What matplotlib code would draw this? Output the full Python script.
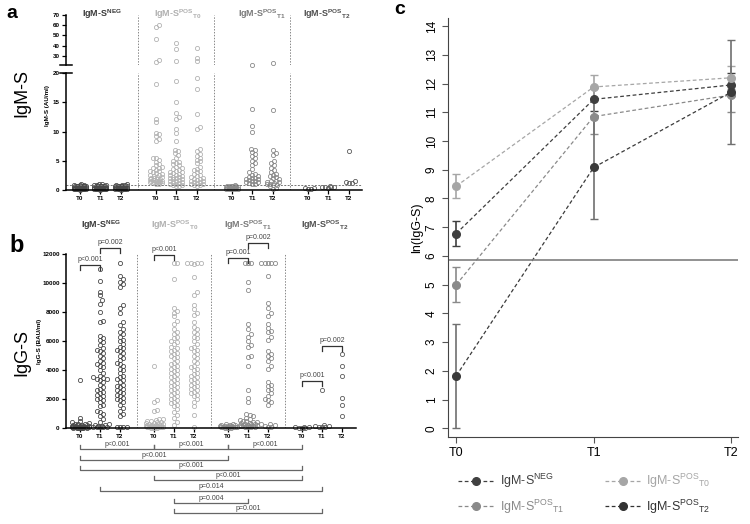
import numpy as np
import matplotlib.pyplot as plt
from matplotlib.lines import Line2D

plt.rcParams['font.family'] = ['Liberation Sans', 'DejaVu Sans']
plt.rcParams['mathtext.fontset'] = 'custom'
plt.rcParams['mathtext.rm'] = 'Liberation Sans'
plt.rcParams['mathtext.bf'] = 'Liberation Sans:bold'
plt.rcParams['mathtext.it'] = 'Liberation Sans:italic'

# ---------------- data ----------------
groups = ['NEG', 'POS_T0', 'POS_T1', 'POS_T2']
times = ['T0', 'T1', 'T2']

# panel a: IgM-S (AU/ml), one list per group/time
igm_neg_t0 = [0.05, 0.1, 0.1, 0.1, 0.15, 0.15, 0.2, 0.2, 0.2, 0.25, 0.25, 0.3, 0.3, 0.3, 0.35, 0.35, 0.4, 0.4,
              0.4, 0.45, 0.45, 0.5, 0.5, 0.5, 0.55, 0.55, 0.6, 0.6, 0.65, 0.65, 0.7, 0.7, 0.75, 0.8, 0.85, 0.9, 0.95]
igm_neg_t1 = [0.05, 0.1, 0.1, 0.15, 0.15, 0.2, 0.2, 0.2, 0.25, 0.25, 0.3, 0.3, 0.35, 0.35, 0.4, 0.4, 0.4, 0.45,
              0.45, 0.5, 0.5, 0.55, 0.55, 0.6, 0.6, 0.65, 0.7, 0.7, 0.75, 0.8, 0.85, 0.9, 0.95, 1.0]
igm_neg_t2 = [0.05, 0.1, 0.1, 0.15, 0.2, 0.2, 0.25, 0.25, 0.3, 0.3, 0.35, 0.35, 0.4, 0.4, 0.45, 0.45, 0.5, 0.5,
              0.55, 0.55, 0.6, 0.6, 0.65, 0.7, 0.7, 0.75, 0.8, 0.85, 0.9, 0.95]
igm_pos0_t0 = [60, 58, 47, 26, 24, 18.2, 12.2, 11.6, 9.8, 9.5, 9.2, 8.8, 8.4, 5.5, 5.4, 5.2, 4.8, 4.5, 4.2, 4.0,
               3.8, 3.7, 3.5, 3.3, 3.2, 3.0, 2.9, 2.8, 2.6, 2.5, 2.4, 2.3, 2.2, 2.1, 2.0, 1.9, 1.8, 1.8, 1.7, 1.6,
               1.6, 1.5, 1.5, 1.4, 1.4, 1.3, 1.3, 1.2, 1.2, 1.1, 1.1]
igm_pos0_t1 = [43, 37, 25, 18.6, 15.0, 13.1, 12.5, 12.1, 10.4, 9.8, 8.3, 6.9, 6.6, 6.3, 6.0, 5.5, 5.0, 4.8, 4.6,
               4.4, 4.2, 4.0, 3.8, 3.6, 3.5, 3.3, 3.1, 3.0, 2.9, 2.8, 2.6, 2.5, 2.4, 2.3, 2.2, 2.1, 2.0, 1.9, 1.8,
               1.7, 1.6, 1.5, 1.4, 1.3, 1.2, 1.1, 1.0, 0.9, 0.8, 0.7, 0.6]
igm_pos0_t2 = [38, 28, 25, 19.2, 17.2, 13.0, 10.8, 10.5, 7.0, 6.6, 6.2, 5.8, 5.5, 5.2, 4.9, 4.6, 4.0, 3.6, 3.4,
               3.2, 3.0, 2.8, 2.6, 2.4, 2.2, 2.0, 1.9, 1.8, 1.7, 1.6, 1.5, 1.4, 1.3, 1.2, 1.1, 1.0, 0.9, 0.8, 0.7]
igm_pos1_t0 = [0.1, 0.15, 0.2, 0.2, 0.25, 0.3, 0.3, 0.35, 0.4, 0.4, 0.45, 0.5, 0.5, 0.55, 0.6, 0.6, 0.65, 0.7,
               0.75, 0.8]
igm_pos1_t1 = [21.5, 13.9, 11.0, 10.0, 7.0, 6.8, 6.5, 6.2, 5.8, 5.4, 5.0, 4.6, 4.2, 3.6, 3.0, 2.8, 2.6, 2.4, 2.2,
               2.1, 2.0, 1.9, 1.8, 1.7, 1.6, 1.5, 1.4, 1.3, 1.2, 1.1, 1.0]
igm_pos1_t2 = [22.8, 13.6, 6.8, 6.4, 6.0, 5.0, 4.6, 4.2, 3.8, 3.4, 3.1, 2.8, 2.6, 2.4, 2.2, 2.0, 1.8, 1.6, 1.5,
               1.4, 1.3, 1.2, 1.1, 1.0, 0.9, 0.8, 0.6, 0.4, 0.2]
igm_pos2_t0 = [0.2, 0.3, 0.4, 0.25]
igm_pos2_t1 = [0.4, 0.5, 0.6, 0.5, 0.45, 0.55]
igm_pos2_t2 = [6.6, 1.6, 1.3, 1.2, 1.2]

# panel b: IgG-S (BAU/ml)
igg_neg_t0 = [3300, 700, 450, 400, 350, 300, 280, 250, 220, 200, 200, 180, 160, 150, 140, 120, 110, 100, 100, 90,
              80, 80, 70, 60, 60, 50, 50, 40, 40, 30, 30, 20, 20, 10, 10, 5]
igg_neg_t1 = [10960, 10130, 9390, 9150, 8800, 8570, 7990, 7410, 7290, 6360, 6200, 6100, 5900, 5700, 5500, 5400,
              5300, 5200, 5000, 4800, 4600, 4500, 4400, 4300, 4200, 4000, 3800, 3600, 3500, 3450, 3400, 3350,
              3300, 3200, 3000, 2800, 2700, 2600, 2500, 2400, 2300, 2200, 2100, 2000, 1900, 1800, 1600, 1500,
              1200, 1100, 1000, 800, 600, 400, 250, 200, 180, 150, 120, 100, 100, 80, 60, 50]
igg_neg_t2 = [11400, 10500, 10300, 10100, 9900, 9700, 8500, 8300, 7900, 7300, 7100, 6800, 6600, 6500, 6300, 6100,
              6000, 5800, 5600, 5500, 5400, 5300, 5200, 5000, 4800, 4700, 4500, 4400, 4300, 4100, 4000, 3800,
              3600, 3500, 3400, 3300, 3200, 3000, 2900, 2800, 2700, 2600, 2500, 2400, 2300, 2200, 2100, 2000,
              1900, 1800, 1600, 1400, 1200, 1000, 800, 100, 80, 60, 50]
igg_pos0_t0 = [4300, 1900, 1800, 1250, 1150, 650, 600, 550, 500, 450, 400, 380, 350, 320, 300, 280, 250, 230,
               200, 200, 180, 160, 150, 140, 120, 100, 100, 80, 70, 60, 50, 40, 30, 20, 10]
igg_pos0_t1 = [11400, 11400, 10300, 8300, 8050, 7950, 7700, 7400, 7200, 6800, 6600, 6500, 6300, 6200, 6000, 5900,
               5800, 5600, 5500, 5400, 5300, 5200, 5100, 5000, 4900, 4800, 4600, 4500, 4400, 4300, 4200, 4100,
               4000, 3900, 3800, 3700, 3600, 3500, 3400, 3300, 3200, 3100, 3000, 2900, 2800, 2700, 2600, 2500,
               2400, 2300, 2200, 2100, 2000, 1900, 1800, 1700, 1600, 1500, 1300, 1100, 900, 700, 400, 200]
igg_pos0_t2 = [11400, 11400, 11400, 11400, 11300, 10400, 9400, 9200, 8500, 8200, 7900, 7800, 7300, 7000, 6800,
               6600, 6500, 6300, 6200, 6000, 5800, 5600, 5500, 5400, 5300, 5100, 5000, 4800, 4600, 4500, 4300,
               4200, 4100, 4000, 3800, 3700, 3600, 3500, 3400, 3300, 3200, 3100, 3000, 2900, 2800, 2700, 2600,
               2500, 2400, 2300, 2200, 2000, 1800, 1500, 900, 50]
igg_pos1_t0 = [300, 250, 220, 200, 180, 160, 150, 130, 120, 100, 90, 80, 70, 60, 50, 40, 30, 20, 10]
igg_pos1_t1 = [11400, 11400, 11400, 10035, 9500, 7180, 6800, 6500, 6300, 6000, 5700, 5600, 5000, 4900, 4300, 2600,
               2100, 1800, 1000, 900, 800, 700, 600, 550, 500, 450, 400, 380, 350, 320, 300, 280, 260, 240, 220,
               200, 180, 160, 150, 130, 120, 100, 80, 60, 40]
igg_pos1_t2 = [11400, 11400, 11400, 11400, 11400, 10500, 8600, 8300, 7900, 7700, 7200, 6900, 6700, 6600, 6300,
               6100, 5300, 5100, 5000, 4800, 4600, 4300, 4100, 3200, 3000, 2900, 2700, 2600, 2400, 2200, 2000,
               1900, 1800, 1600, 300, 250, 200, 150, 100, 80]
igg_pos2_t0 = [60, 50, 40, 30, 20, 10]
igg_pos2_t1 = [2650, 200, 150, 120, 100, 80, 50]
igg_pos2_t2 = [5100, 4300, 3600, 2050, 1600, 850]

igm_cols = [igm_neg_t0, igm_neg_t1, igm_neg_t2, igm_pos0_t0, igm_pos0_t1, igm_pos0_t2,
            igm_pos1_t0, igm_pos1_t1, igm_pos1_t2, igm_pos2_t0, igm_pos2_t1, igm_pos2_t2]
igg_cols = [igg_neg_t0, igg_neg_t1, igg_neg_t2, igg_pos0_t0, igg_pos0_t1, igg_pos0_t2,
            igg_pos1_t0, igg_pos1_t1, igg_pos1_t2, igg_pos2_t0, igg_pos2_t1, igg_pos2_t2]

igm_cutoff = 0.85
ln_cutoff = 5.85

# panel c: ln(IgG-S) mean and error
neg_mean = [6.78, 11.45, 11.95]
neg_err = [0.42, 0.40, 0.40]
pos0_mean = [8.43, 11.88, 12.20]
pos0_err = [0.42, 0.42, 0.40]
pos1_mean = [5.00, 10.85, 11.60]
pos1_err = [0.60, 0.60, 0.60]
pos2_mean = [1.83, 9.08, 11.70]
pos2_err = [1.80, 1.80, 1.80]

# p-values
p_within = [(0, 1, 11240, 'p<0.001'), (1, 2, 12410, 'p=0.002'), (3.7, 4.7, 11930, 'p<0.001'),
            (7.4, 8.4, 11720, 'p=0.001'), (8.4, 9.4, 12760, 'p=0.002'),
            (11.1, 12.1, 3240, 'p<0.001'), (12.1, 13.1, 5650, 'p=0.002')]
p_between = [(0, 3.7, 449, 'p<0.001'), (3.7, 7.4, 449, 'p<0.001'), (7.4, 11.1, 449, 'p<0.001'),
             (0, 7.4, 460, 'p<0.001'), (0, 11.1, 470, 'p<0.001'), (3.7, 11.1, 480, 'p<0.001'),
             (1, 12.1, 491, 'p=0.014'), (4.7, 8.4, 503, 'p=0.004'), (4.7, 12.1, 513, 'p=0.001')]

# ---------------- style ----------------
grp_colors = ['#4a4a4a', '#b3b3b3', '#8a8a8a', '#5a5a5a']
hdr_colors = ['#3a3a3a', '#b0b0b0', '#7a7a7a', '#505050']
hdr_labels = [r'IgM-S$^{\mathbf{NEG}}$', r'IgM-S$^{\mathbf{POS}}{}_{\mathbf{T0}}$',
              r'IgM-S$^{\mathbf{POS}}{}_{\mathbf{T1}}$', r'IgM-S$^{\mathbf{POS}}{}_{\mathbf{T2}}$']
xpos = [3.7 * g + t for g in range(4) for t in range(3)]
seps = [2.85 + 3.7 * k for k in range(3)]
W, H = 750, 524


def fx(x):
    return x / W


def fy(y):
    return 1 - y / H


def swarm(vals, ppy, ppx=20.0, d=3.4, maxw=9.0):
    vals = np.asarray(vals, float)
    ys = vals * ppy
    offs = np.zeros(len(vals))
    cands = [0.0]
    k = 1
    while k * d / 2 <= maxw:
        cands += [k * d / 2, -k * d / 2]
        k += 1
    done = []
    for i in np.argsort(vals):
        best, bestd = 0.0, -1
        for c in cands:
            if done:
                pts = np.array(done)
                md = np.min(np.hypot(pts[:, 0] - c, pts[:, 1] - ys[i]))
            else:
                md = np.inf
            if md >= d:
                best = c
                break
            if md > bestd:
                bestd, best = md, c
        offs[i] = best
        done.append((best, ys[i]))
    return offs / ppx


def style_ax(ax):
    for s in ['top', 'right']:
        ax.spines[s].set_visible(False)
    for s in ['left', 'bottom']:
        ax.spines[s].set_linewidth(1.1)
    ax.tick_params(length=3, width=0.9, labelsize=4.5, pad=1.5)
    for lab in ax.get_yticklabels() + ax.get_xticklabels():
        lab.set_fontweight('bold')


fig = plt.figure(figsize=(7.5, 5.24), dpi=100)

# ---------------- panel a ----------------
ax_top = fig.add_axes([fx(66), fy(65.2), fx(296), 50.2 / H])
ax_bot = fig.add_axes([fx(66), fy(190), fx(296), 117 / H])
xl = (-0.68, 13.75)
for i, vals in enumerate(igm_cols):
    g = i // 3
    lo = [v for v in vals if v <= 20.5]
    hi = [v for v in vals if v > 20.5]
    if lo:
        ax_bot.plot(xpos[i] + swarm(lo, 5.86, 20.5, 3.0, 7.0), lo, 'o', ms=3.0, mfc='none',
                    mec=grp_colors[g], mew=0.6, clip_on=False)
    if hi:
        ax_top.plot(xpos[i] + swarm(hi, 1.025, 20.5, 3.0, 7.0), hi, 'o', ms=3.0, mfc='none',
                    mec=grp_colors[g], mew=0.6, clip_on=False)

ax_top.set_xlim(xl)
ax_top.set_ylim(21, 70)
ax_top.set_yticks([30, 40, 50, 60, 70])
ax_top.set_xticks([])
style_ax(ax_top)
ax_top.spines['bottom'].set_visible(False)
ax_top.plot([-0.02, 0.02], [21, 21], color='k', lw=1.1, transform=ax_top.get_yaxis_transform(), clip_on=False)

ax_bot.set_xlim(xl)
ax_bot.set_ylim(0, 20)
ax_bot.set_yticks([0, 5, 10, 15, 20])
ax_bot.set_xticks(xpos)
ax_bot.set_xticklabels(times * 4)
style_ax(ax_bot)
ax_bot.plot([-0.02, 0.02], [20, 20], color='k', lw=1.1, transform=ax_bot.get_yaxis_transform(), clip_on=False)
ax_bot.axhline(igm_cutoff, color='#777777', lw=0.7, ls=(0, (2, 1.5)))
for s in seps:
    ax_bot.axvline(s, color='#888888', lw=0.7, ls=(0, (1.5, 1.5)))
    ax_top.axvline(s, color='#888888', lw=0.7, ls=(0, (1.5, 1.5)))
fig.text(fx(48), fy(105), 'IgM-S (AU/ml)', rotation=90, fontsize=4.5, fontweight='bold', ha='center', va='center')

hdr_a_x = [102, 178, 262, 327]
hdr_b_x = [101, 175, 248, 325]
for g in range(4):
    fig.text(fx(hdr_a_x[g]), fy(14), hdr_labels[g], color=hdr_colors[g], fontsize=6.5, fontweight='bold',
             ha='center', va='center')
    fig.text(fx(hdr_b_x[g]), fy(225), hdr_labels[g], color=hdr_colors[g], fontsize=6.5, fontweight='bold',
             ha='center', va='center')

# ---------------- panel b ----------------
ax_b = fig.add_axes([fx(66), fy(428), fx(290), 174 / H])
for i, vals in enumerate(igg_cols):
    g = i // 3
    ax_b.plot(xpos[i] + swarm(vals, 174 / 12000, 20.0, 3.4, 10.0), vals, 'o', ms=3.0, mfc='none',
              mec=grp_colors[g], mew=0.6, clip_on=False)
ax_b.set_xlim(-0.7, 13.8)
ax_b.set_ylim(0, 12000)
ax_b.set_yticks(range(0, 12001, 2000))
ax_b.set_xticks(xpos)
ax_b.set_xticklabels(times * 4)
style_ax(ax_b)
for s in seps:
    ax_b.axvline(s, color='#888888', lw=0.7, ls=(0, (1.5, 1.5)))
fig.text(fx(40), fy(341), 'IgG-S (BAU/ml)', rotation=90, fontsize=4.5, fontweight='bold', ha='center', va='center')

tk = 345
for x1, x2, y, txt in p_within:
    ax_b.plot([x1, x1, x2, x2], [y - tk, y, y, y - tk], color='#333333', lw=0.9, clip_on=False)
    ax_b.text((x1 + x2) / 2, y + 150, txt, fontsize=5, color='#444444', ha='center', va='bottom')

for x1, x2, ypx, txt in p_between:
    y = (428 - ypx) * 12000 / 174
    ax_b.plot([x1, x1, x2, x2], [y + 280, y, y, y + 280], color='#666666', lw=0.9, clip_on=False)
    ax_b.text((x1 + x2) / 2, y + 40, txt, fontsize=5, color='#444444', ha='center', va='bottom')

# ---------------- panel c ----------------
ax_c = fig.add_axes([fx(448), fy(437), fx(290), 419 / H])
c_x = [0, 1, 2]
series = [(neg_mean, neg_err, '#3f3f3f', '#404040'),
          (pos0_mean, pos0_err, '#a6a6a6', '#a6a6a6'),
          (pos1_mean, pos1_err, '#8a8a8a', '#8a8a8a'),
          (pos2_mean, pos2_err, '#3a3a3a', '#707070')]
for m, e, col, ecol in series:
    ax_c.errorbar(c_x, m, yerr=e, fmt='none', ecolor=ecol, elinewidth=1.2, capsize=3, capthick=1.0)
for m, e, col, ecol in series:
    ax_c.plot(c_x, m, ls=(0, (3, 2)), lw=0.9, color=col, marker='o', ms=5.5)
ax_c.axhline(ln_cutoff, color='#7f7f7f', lw=1.2)
ax_c.set_xlim(-0.06, 2.05)
ax_c.set_ylim(-0.3, 14.28)
ax_c.set_yticks(range(0, 15))
ax_c.set_xticks(c_x)
ax_c.set_xticklabels(times, fontsize=9)
ax_c.tick_params(axis='y', labelrotation=90, labelsize=8.5, length=4, color='#555555')
ax_c.tick_params(axis='x', length=4, color='#555555')
for lab in ax_c.get_yticklabels():
    lab.set_va('center')
for s in ['top', 'right']:
    ax_c.spines[s].set_visible(False)
for s in ['left', 'bottom']:
    ax_c.spines[s].set_color('#444444')
ax_c.set_ylabel('ln(IgG-S)', fontsize=9, labelpad=2)

leg_labels = [r'IgM-S$^{\mathrm{NEG}}$', r'IgM-S$^{\mathrm{POS}}{}_{\mathrm{T1}}$',
              r'IgM-S$^{\mathrm{POS}}{}_{\mathrm{T0}}$', r'IgM-S$^{\mathrm{POS}}{}_{\mathrm{T2}}$']
leg_cols = ['#404040', '#8a8a8a', '#a6a6a6', '#333333']
handles = [Line2D([], [], ls=(0, (3, 2)), lw=0.9, color=c, marker='o', ms=5.5) for c in leg_cols]
leg = fig.legend(handles, leg_labels, loc='upper left', bbox_to_anchor=(fx(447), fy(461)), ncol=2,
                 frameon=False, fontsize=9, handlelength=2.8, handletextpad=0.5, columnspacing=3.3,
                 labelspacing=0.55, labelcolor=leg_cols)

fig.text(fx(22), fy(93), 'IgM-S', rotation=90, fontsize=13, ha='center', va='center')
fig.text(fx(22), fy(352), 'IgG-S', rotation=90, fontsize=13, ha='center', va='center')
fig.text(fx(12), fy(14), 'a', fontsize=14, fontweight='bold', ha='center', va='center')
fig.text(fx(17), fy(245), 'b', fontsize=17, fontweight='bold', ha='center', va='center')
fig.text(fx(400), fy(10), 'c', fontsize=14, fontweight='bold', ha='center', va='center')

fig.savefig('out.png', dpi=100)
